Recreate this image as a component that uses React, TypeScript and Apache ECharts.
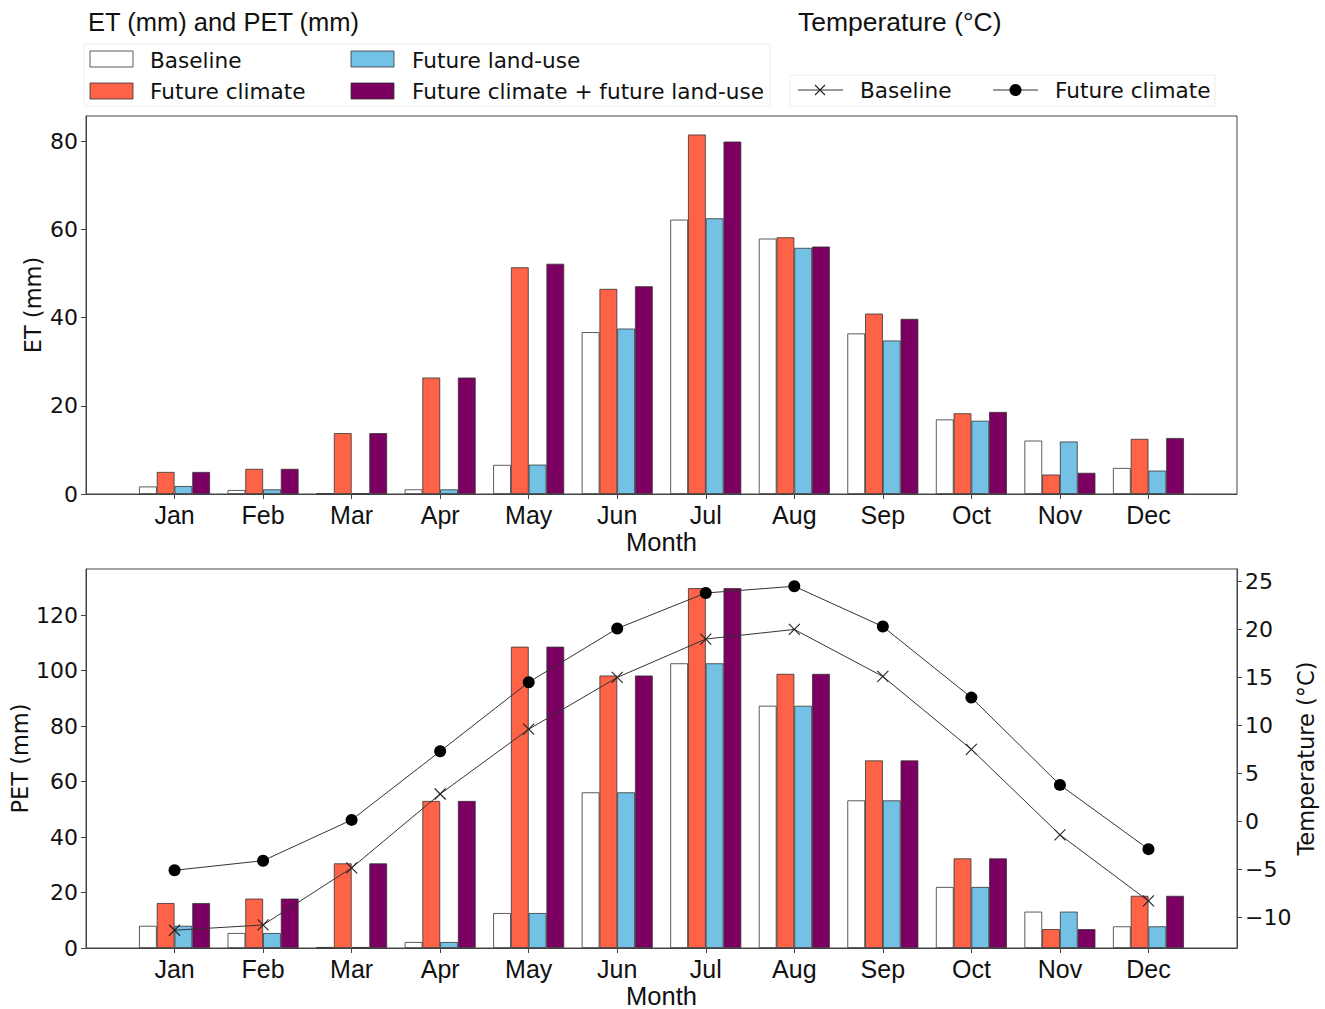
import React, { useEffect, useRef } from "react";
import * as echarts from "echarts";

const months = ["Jan", "Feb", "Mar", "Apr", "May", "Jun", "Jul", "Aug", "Sep", "Oct", "Nov", "Dec"];

// ET (mm)
const etBaseline = [1.7, 0.9, 0.15, 1.05, 6.6, 36.7, 62.2, 57.9, 36.4, 16.9, 12.1, 5.9];
const etFutureClimate = [5.0, 5.7, 13.8, 26.4, 51.4, 46.5, 81.5, 58.2, 40.9, 18.3, 4.4, 12.5];
const etFutureLandUse = [1.8, 1.05, 0.15, 1.05, 6.65, 37.5, 62.5, 55.8, 34.8, 16.6, 11.9, 5.3];
const etCombined = [5.0, 5.7, 13.8, 26.4, 52.2, 47.1, 79.9, 56.1, 39.7, 18.6, 4.8, 12.7];

// PET (mm)
const petBaseline = [8.0, 5.4, 0.35, 2.15, 12.6, 56.1, 102.6, 87.3, 53.2, 22.0, 13.1, 7.8];
const petFutureClimate = [16.2, 17.8, 30.5, 53.0, 108.6, 98.2, 129.7, 98.8, 67.6, 32.3, 6.8, 18.8];
const petFutureLandUse = [8.0, 5.4, 0.35, 2.15, 12.6, 56.1, 102.6, 87.3, 53.2, 22.0, 13.1, 7.8];
const petCombined = [16.2, 17.8, 30.5, 53.0, 108.6, 98.2, 129.7, 98.8, 67.6, 32.3, 6.8, 18.8];

// Temperature (°C)
const tempBaseline = [-11.35, -10.8, -4.85, 2.85, 9.6, 15.0, 19.0, 20.0, 15.1, 7.5, -1.4, -8.3];
const tempFutureClimate = [-5.1, -4.1, 0.15, 7.3, 14.5, 20.1, 23.8, 24.5, 20.3, 12.9, 3.8, -2.9];

const etTicks = [0, 20, 40, 60, 80];
const petTicks = [0, 20, 40, 60, 80, 100, 120];
const tempTicks = [-10, -5, 0, 5, 10, 15, 20, 25];

const COLORS = {
  baseline: "#ffffff",
  climate: "#ff6347",
  landuse: "#74c1e6",
  combined: "#7b0061",
};

const pad = (arr: number[]) => [null, ...arr, null];
const cats = ["", ...months, ""];

const LABEL_FONT = "DejaVu Sans";
const MONTH_FONT = "Liberation Sans";
const BAR_W = 17.75;
const EDGE = "#333";

function barSeries(name: string, data: number[], color: string, xi: number, yi: number) {
  return {
    type: "bar",
    name,
    xAxisIndex: xi,
    yAxisIndex: yi,
    data: pad(data),
    barWidth: BAR_W,
    barGap: "0%",
    itemStyle: { color, borderColor: EDGE, borderWidth: 0.8 },
    z: 2,
  };
}

const minus = (v: number) => String(v).replace("-", "\u2212");

function xAxisDef(gridIndex: number) {
  return {
    type: "category",
    gridIndex,
    data: cats,
    boundaryGap: false,
    axisLine: { show: true, lineStyle: { color: "#444", width: 1 } },
    axisTick: {
      show: true,
      length: 5,
      interval: (idx: number) => idx > 0 && idx < 13,
      lineStyle: { color: "#444" },
    },
    axisLabel: {
      interval: 0,
      margin: 8,
      fontFamily: MONTH_FONT,
      fontSize: 25,
      color: "#111",
    },
    name: "Month",
    nameLocation: "middle",
    nameGap: 35,
    nameMoveOverlap: false,
    nameTextStyle: { fontFamily: MONTH_FONT, fontSize: 25.5, color: "#111", verticalAlign: "top" },
    splitLine: { show: false },
  };
}

function yAxisDef(gridIndex: number, max: number, ticks: number[], name: string, nameGap: number, position: "left" | "right", min = 0) {
  return {
    type: "value",
    gridIndex,
    position,
    min,
    max,
    axisLine: { show: true, lineStyle: { color: "#444", width: 1 } },
    axisTick: { show: true, length: 5, customValues: ticks, lineStyle: { color: "#444" } },
    axisLabel: {
      customValues: ticks,
      margin: 8,
      fontFamily: LABEL_FONT,
      fontSize: 22,
      color: "#111",
      formatter: (v: number) => minus(v),
    },
    splitLine: { show: false },
    name,
    nameLocation: "middle",
    nameGap,
    nameRotate: 90,
    nameMoveOverlap: false,
    nameTextStyle: { fontFamily: LABEL_FONT, fontSize: 22.5, color: "#111" },
  };
}

export default function App() {
  const ref = useRef<HTMLDivElement>(null);
  useEffect(() => {
    if (!ref.current) return;
    const chart = echarts.init(ref.current, undefined, { renderer: "svg" });
    const legendText = (x: number, y: number, text: string) => ({
      type: "text",
      x,
      y,
      style: { text, fontFamily: LABEL_FONT, fontSize: 21.6, fill: "#111", verticalAlign: "middle", align: "left" },
    });
    const swatch = (x: number, y: number, fill: string) => ({
      type: "rect",
      shape: { x, y, width: 43, height: 16 },
      style: { fill, stroke: EDGE, lineWidth: 0.8 },
    });
    chart.setOption({
      animation: false,
      backgroundColor: "#ffffff",
      grid: [
        { left: 86, top: 116, width: 1151, height: 378, show: true, borderColor: "#444", borderWidth: 1, backgroundColor: "transparent", containLabel: false, outerBoundsMode: "none" },
        { left: 86, top: 569, width: 1151, height: 379, show: true, borderColor: "#444", borderWidth: 1, backgroundColor: "transparent", containLabel: false, outerBoundsMode: "none" },
      ],
      xAxis: [xAxisDef(0), xAxisDef(1)],
      yAxis: [
        yAxisDef(0, 85.7, etTicks, "ET (mm)", 42, "left"),
        yAxisDef(1, 136.6, petTicks, "PET (mm)", 55, "left"),
        yAxisDef(1, 26.3, tempTicks, "Temperature (°C)", 57, "right", -13.2),
      ],
      series: [
        barSeries("Baseline", etBaseline, COLORS.baseline, 0, 0),
        barSeries("Future climate", etFutureClimate, COLORS.climate, 0, 0),
        barSeries("Future land-use", etFutureLandUse, COLORS.landuse, 0, 0),
        barSeries("Future climate + future land-use", etCombined, COLORS.combined, 0, 0),
        barSeries("Baseline", petBaseline, COLORS.baseline, 1, 1),
        barSeries("Future climate", petFutureClimate, COLORS.climate, 1, 1),
        barSeries("Future land-use", petFutureLandUse, COLORS.landuse, 1, 1),
        barSeries("Future climate + future land-use", petCombined, COLORS.combined, 1, 1),
        {
          type: "line",
          name: "Baseline temperature",
          xAxisIndex: 1,
          yAxisIndex: 2,
          data: pad(tempBaseline),
          symbol: "path://M0,0L10,10M0,10L10,0",
          symbolSize: 11,
          lineStyle: { color: "#333", width: 1 },
          itemStyle: { color: "none", borderColor: "#222", borderWidth: 1.1 },
          z: 5,
        },
        {
          type: "line",
          name: "Future climate temperature",
          xAxisIndex: 1,
          yAxisIndex: 2,
          data: pad(tempFutureClimate),
          symbol: "circle",
          symbolSize: 12,
          lineStyle: { color: "#333", width: 1 },
          itemStyle: { color: "#000", borderWidth: 0 },
          z: 6,
        },
      ],
      graphic: [
        {
          type: "text",
          x: 88,
          y: 22,
          style: { text: "ET (mm) and PET (mm)", fontFamily: MONTH_FONT, fontSize: 25.5, fill: "#111", verticalAlign: "middle" },
        },
        {
          type: "text",
          x: 798,
          y: 22,
          style: { text: "Temperature (°C)", fontFamily: MONTH_FONT, fontSize: 26.5, fill: "#111", verticalAlign: "middle" },
        },
        { type: "rect", shape: { x: 84, y: 44, width: 686, height: 62 }, style: { fill: "#fff", stroke: "#ececec", lineWidth: 1 } },
        swatch(90, 51, COLORS.baseline),
        legendText(150, 60, "Baseline"),
        swatch(351, 51, COLORS.landuse),
        legendText(412, 60, "Future land-use"),
        swatch(90, 83, COLORS.climate),
        legendText(150, 91, "Future climate"),
        swatch(351, 83, COLORS.combined),
        legendText(412, 91, "Future climate + future land-use"),
        { type: "rect", shape: { x: 790, y: 75, width: 425, height: 31 }, style: { fill: "#fff", stroke: "#ececec", lineWidth: 1 } },
        { type: "line", shape: { x1: 798, y1: 90, x2: 843, y2: 90 }, style: { stroke: "#333", lineWidth: 1 } },
        { type: "line", shape: { x1: 815, y1: 85, x2: 825, y2: 95 }, style: { stroke: "#222", lineWidth: 1.1 } },
        { type: "line", shape: { x1: 815, y1: 95, x2: 825, y2: 85 }, style: { stroke: "#222", lineWidth: 1.1 } },
        legendText(860, 90, "Baseline"),
        { type: "line", shape: { x1: 993, y1: 90, x2: 1038, y2: 90 }, style: { stroke: "#333", lineWidth: 1 } },
        { type: "circle", shape: { cx: 1015.5, cy: 90, r: 6 }, style: { fill: "#000" } },
        legendText(1055, 90, "Future climate"),
      ],
    });
    return () => chart.dispose();
  }, []);
  return (
    <div
      ref={ref}
      style={{ position: "fixed", left: 0, top: 0, width: 1325, height: 1009, background: "#fff" }}
    />
  );
}
